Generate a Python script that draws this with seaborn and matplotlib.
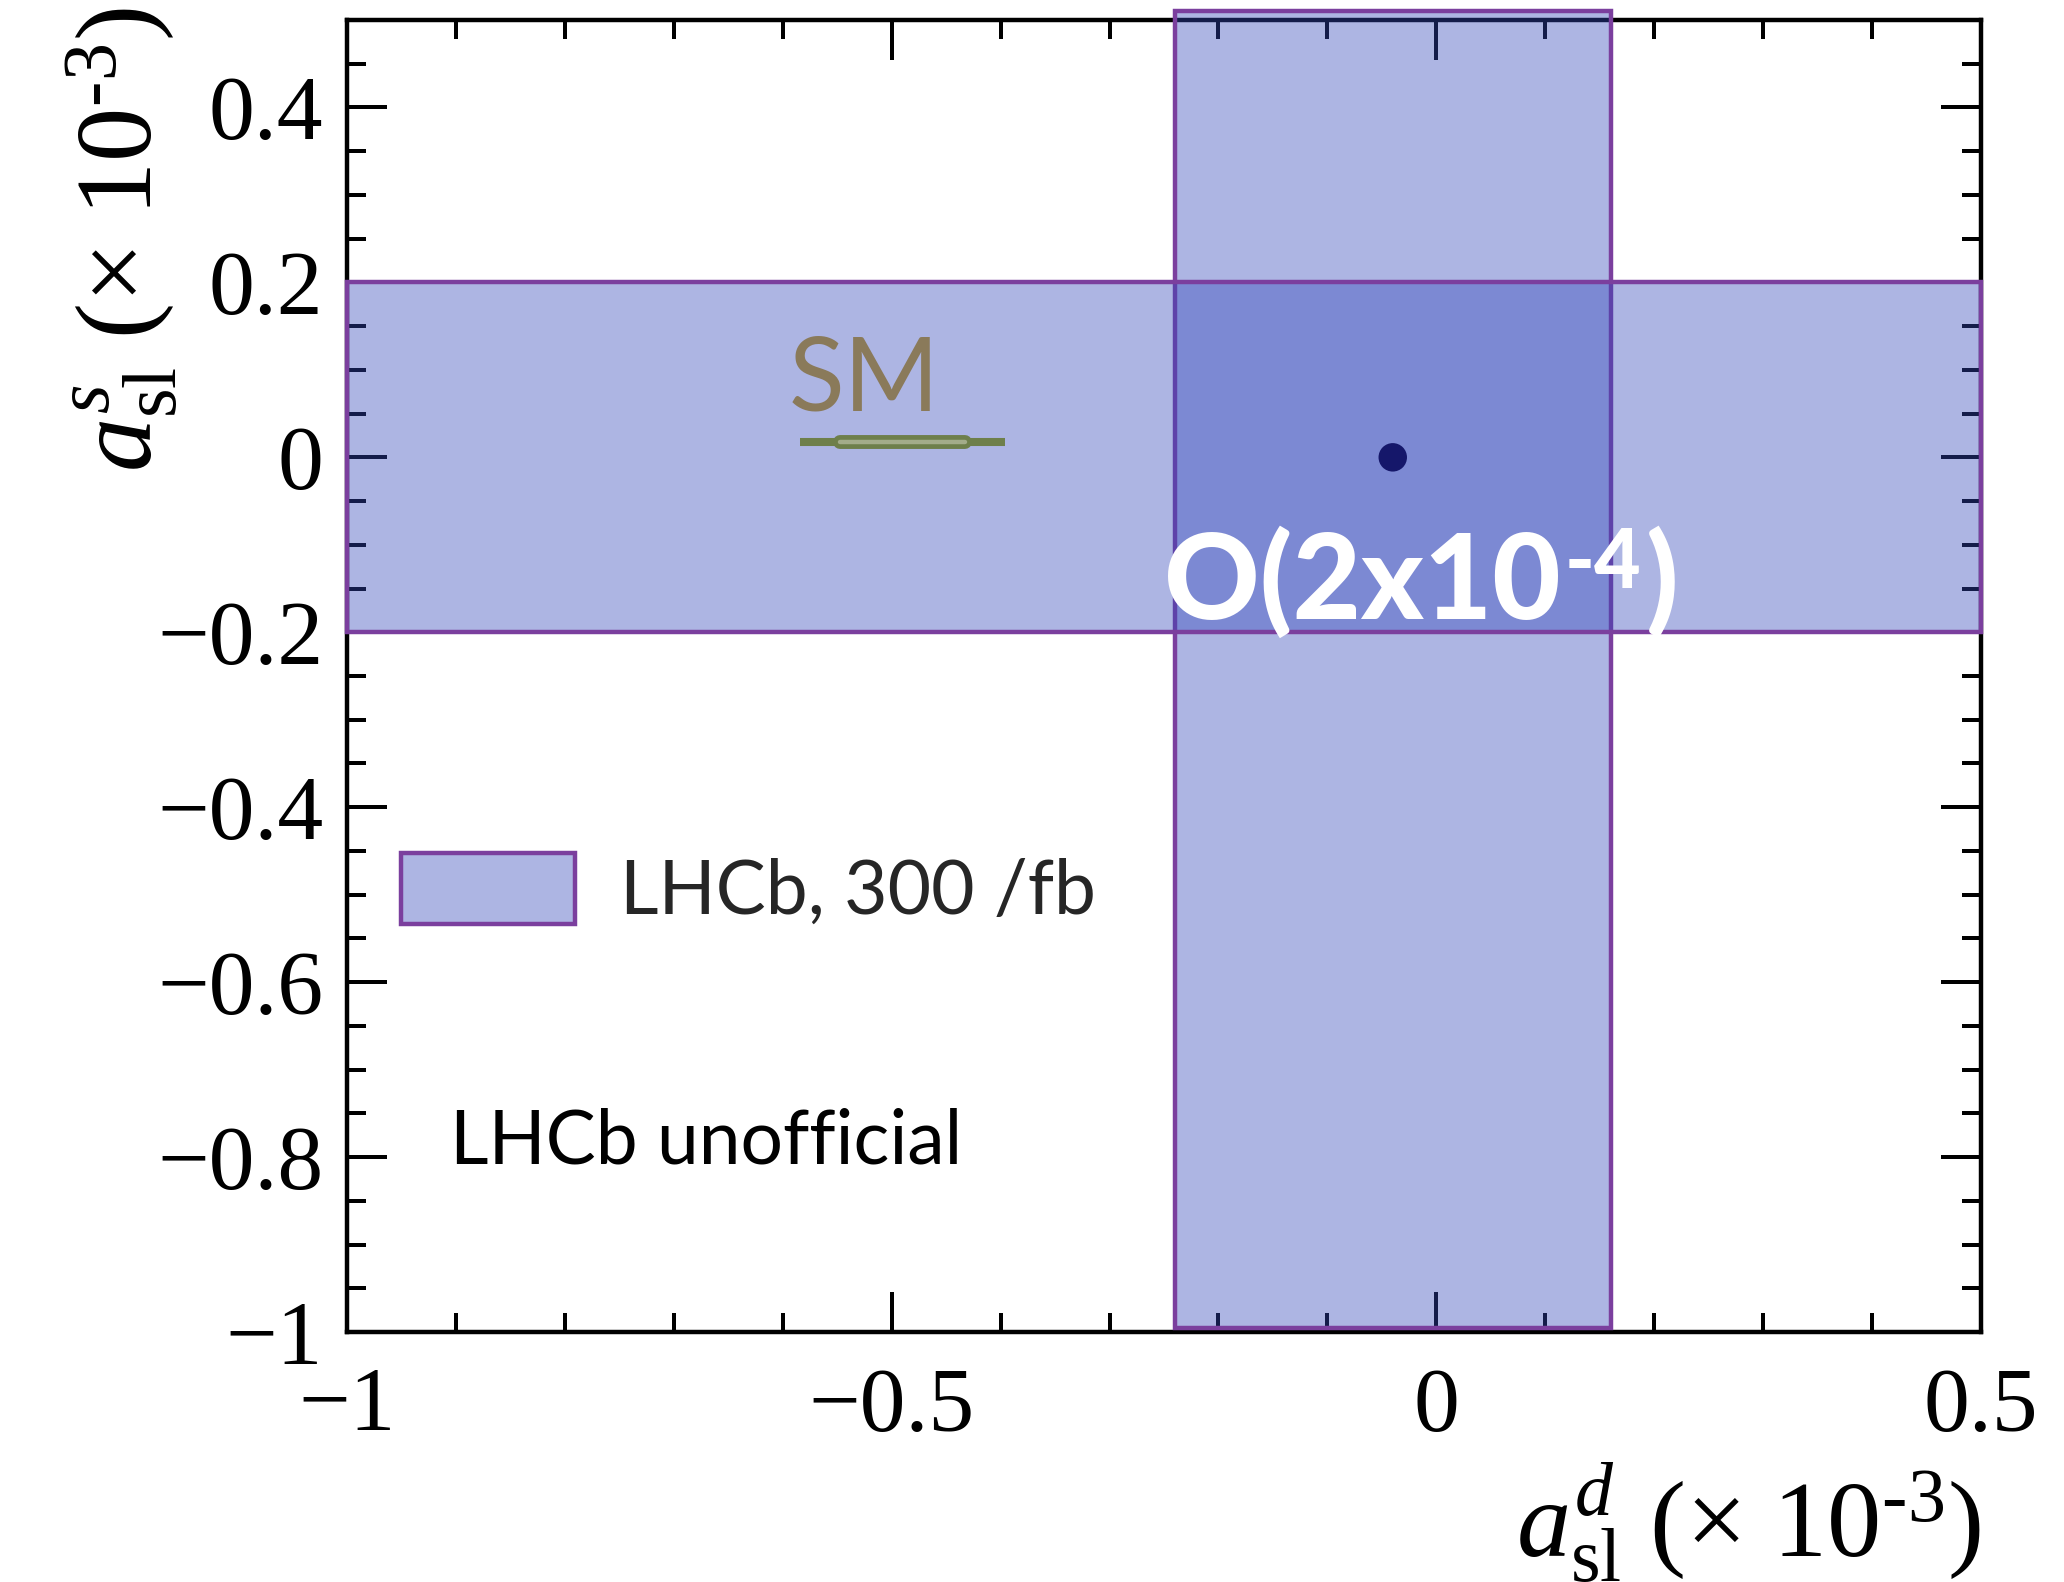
import matplotlib
matplotlib.use("Agg")
import matplotlib.pyplot as plt
from matplotlib.patches import Rectangle, Patch
from matplotlib.ticker import FixedLocator, FixedFormatter, MultipleLocator
import seaborn as sns

# ---- data (units of 1e-3) ----
x_limits = [-1.0, 0.5]
y_limits = [-1.0, 0.5]

# LHCb 300/fb projected sensitivity: central value and half-width of each band
asl_d_center = -0.04
asl_d_halfwidth = 0.20
asl_s_center = 0.0
asl_s_halfwidth = 0.20
asl_d_band_extent = [-0.995, 0.51]   # vertical band, along a_sl^s
asl_s_band_extent = [-1.0, 0.5]      # horizontal band, along a_sl^d

# Standard Model prediction
sm_d = -0.49
sm_s = 0.017
sm_d_err_outer = 0.094
sm_d_err_inner = 0.057

x_ticks = [-1.0, -0.5, 0.0, 0.5]
x_tick_labels = ["\u22121", "\u22120.5", "0", "0.5"]
y_ticks = [-1.0, -0.8, -0.6, -0.4, -0.2, 0.0, 0.2, 0.4]
y_tick_labels = ["\u22121", "\u22120.8", "\u22120.6", "\u22120.4", "\u22120.2", "0", "0.2", "0.4"]

band_face = (52 / 255, 72 / 255, 187 / 255, 0.40)
band_edge = "#7B3F9E"
sm_green = "#6E7F4B"
sm_light = "#A3AC8A"
sm_text = "#8A7A5A"
dot_color = "#15176A"

sns.set_theme(style="ticks")
plt.rcParams.update({
    "font.family": ["Lato", "DejaVu Sans"],
    "mathtext.fontset": "custom",
    "mathtext.rm": "Liberation Serif",
    "mathtext.it": "Liberation Serif:italic",
    "mathtext.bf": "Liberation Serif:bold",
})

fig = plt.figure(figsize=(10.32, 7.91), dpi=200)
ax = fig.add_axes([347 / 2064, 1 - 1332 / 1582, (1981 - 347) / 2064, (1332 - 20) / 1582])
ax.set_facecolor("white")

# bands (drawn above the frame so ticks show through the tint)
vband = Rectangle((asl_d_center - asl_d_halfwidth, asl_d_band_extent[0]),
                  2 * asl_d_halfwidth, asl_d_band_extent[1] - asl_d_band_extent[0],
                  facecolor=band_face, edgecolor=band_edge, linewidth=1.6,
                  zorder=3, clip_on=False)
hband = Rectangle((asl_s_band_extent[0], asl_s_center - asl_s_halfwidth),
                  asl_s_band_extent[1] - asl_s_band_extent[0], 2 * asl_s_halfwidth,
                  facecolor=band_face, edgecolor=band_edge, linewidth=1.6,
                  zorder=3.1, clip_on=False)
ax.add_patch(vband)
ax.add_patch(hband)

# SM prediction
sns.lineplot(x=[sm_d - sm_d_err_outer, sm_d + sm_d_err_outer], y=[sm_s, sm_s],
             ax=ax, color=sm_green, linewidth=2.9, sort=False, estimator=None,
             solid_capstyle="butt", zorder=4)
sns.lineplot(x=[sm_d - sm_d_err_inner, sm_d + sm_d_err_inner], y=[sm_s, sm_s],
             ax=ax, color=sm_green, linewidth=5.0, sort=False, estimator=None,
             solid_capstyle="round", zorder=4.1)
sns.lineplot(x=[sm_d - sm_d_err_inner, sm_d + sm_d_err_inner], y=[sm_s, sm_s],
             ax=ax, color=sm_light, linewidth=1.6, sort=False, estimator=None,
             solid_capstyle="round", zorder=4.2)
ax.text(-0.595, 0.054, "SM", color=sm_text, fontsize=37, ha="left", va="baseline",
        zorder=6)

# projected central value
sns.scatterplot(x=[asl_d_center], y=[asl_s_center], ax=ax, s=105, color=dot_color,
                edgecolor="none", zorder=5)

# precision label: "O(2x10" + superscript "-4" + ")"
label_kw = dict(color="white", fontweight="black", zorder=6)
main = ax.text(-0.25, -0.185, "O(2x10", fontsize=42.5, ha="left", va="baseline",
               **label_kw)
sup = ax.annotate("-4", xy=(1, 1), xycoords=main, xytext=(1.5, 0),
                  textcoords="offset points", fontsize=29, ha="left", va="top",
                  **label_kw)
ax.annotate(")", xy=(1, 0), xycoords=(sup, main), xytext=(1.5, 0),
            textcoords="offset points", fontsize=42.5, ha="left", va="bottom",
            **label_kw)

ax.text(-0.905, -0.807, "LHCb unofficial", color="black", fontsize=27,
        ha="left", va="baseline", zorder=6)

# axes
ax.set_xlim(*x_limits)
ax.set_ylim(*y_limits)
ax.xaxis.set_major_locator(FixedLocator(x_ticks))
ax.xaxis.set_major_formatter(FixedFormatter(x_tick_labels))
ax.yaxis.set_major_locator(FixedLocator(y_ticks))
ax.yaxis.set_major_formatter(FixedFormatter(y_tick_labels))
ax.xaxis.set_minor_locator(MultipleLocator(0.1))
ax.yaxis.set_minor_locator(MultipleLocator(0.05))
ax.tick_params(which="both", direction="in", top=True, right=True,
               width=1.44, color="black")
ax.tick_params(which="major", length=14.4)
ax.tick_params(which="minor", length=6.8)
ax.tick_params(axis="x", which="major", pad=12.6)
ax.tick_params(axis="y", which="major", pad=8.6)
for lab in ax.get_xticklabels() + ax.get_yticklabels():
    lab.set_fontfamily("Liberation Serif")
    lab.set_fontsize(33)
    lab.set_color("black")
for sp in ax.spines.values():
    sp.set_visible(True)
    sp.set_linewidth(1.6)
    sp.set_color("black")
    sp.set_zorder(2.5)

fig.text(1981 / 2064, 1 - 1557 / 1582,
         r"$a^{d}_{\mathrm{sl}}\ (\times\ 10^{\text{-}3})$",
         fontsize=39, ha="right", va="baseline", color="black")
fig.text(122 / 2064, 1 - 7 / 1582,
         r"$a^{s}_{\mathrm{sl}}\ (\times\ 10^{\text{-}3})$",
         fontsize=39, ha="center", va="top", rotation=90, color="black")

# legend
handle = Patch(facecolor=band_face, edgecolor=band_edge, linewidth=1.6,
               label="LHCb, 300 /fb")
leg = ax.legend(handles=[handle], loc="center left",
                bbox_to_anchor=((401 - 347) / (1981 - 347), (1332 - 890) / 1312),
                frameon=False, fontsize=27, borderpad=0, borderaxespad=0,
                handlelength=2.32, handleheight=1.09, handletextpad=0.6)
leg.set_zorder(6)

fig.savefig("out.png", dpi=200)
